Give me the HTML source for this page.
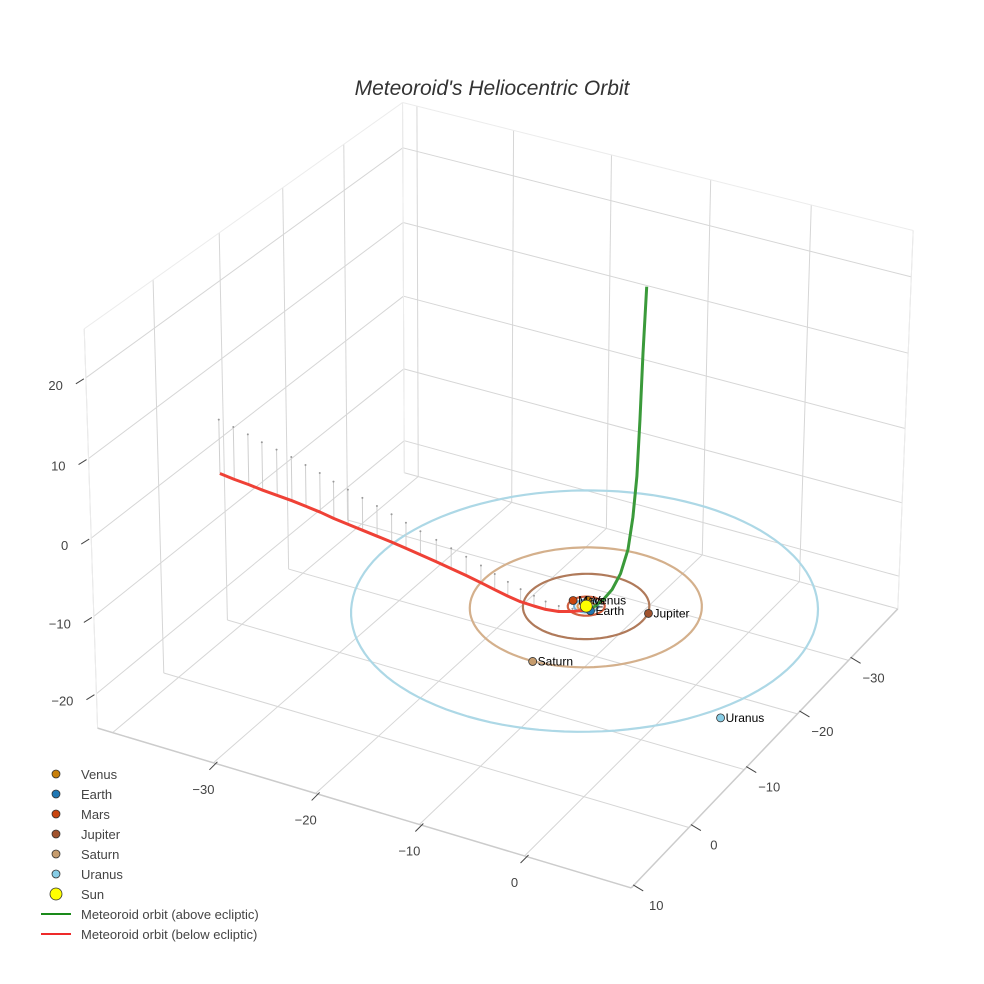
<!DOCTYPE html>
<html><head><meta charset="utf-8"><style>
html,body{margin:0;padding:0;background:#fff;}
svg{display:block;font-family:"Liberation Sans",sans-serif;}
</style></head><body>
<svg id="chart" width="984" height="984" viewBox="0 0 984 984">
<rect width="984" height="984" fill="#fff"/>
<text x="492" y="95" text-anchor="middle" font-size="21" font-style="italic" fill="#333">Meteoroid's Heliocentric Orbit</text>
<g id="grid"></g>
<g id="axes"></g>
<g id="orbits"></g>
<g id="traj"></g>
<g id="planets"></g>
<g id="legend"></g>
</svg>
<script>
// ---- data ----
const xTicks=[-30,-20,-10,0];
const yTicks=[-30,-20,-10,0,10];
const zTicks=[-20,-10,0,10,20];
const planetNames=["Venus","Earth","Mars","Jupiter","Saturn","Uranus"];
const planetColors=["#c87f0a","#1f77b4","#c8450f","#a0522d","#c69c6d","#87cde6"];
const orbitColors=["#e0a060","#7ab8dc","#d06040","#b07a5a","#d4b08c","#add8e6"];
const orbitRadii=[0.72,1.0,1.52,5.2,9.55,19.2];
const planetX=[-0.33,0.67,-1.39,5.07,0.41,17.8];
const planetY=[-0.85,0.49,-0.27,-1.42,9.6,9.95];
const redX=[-43.4,-41.6,-39.8,-38.0,-36.2,-34.4,-32.6,-30.8,-29.0,-27.2,-25.4,-23.6,-21.8,-20.0,-18.2,-16.3,-14.5,-12.7,-10.9,-9.2,-7.6,-6.1,-4.6,-3.3,-2.0,-0.8,0.45];
const redY=[-12.2,-11.7,-11.2,-10.6,-10.1,-9.6,-9.0,-8.4,-7.7,-7.1,-6.5,-5.9,-5.3,-4.65,-4.0,-3.4,-2.8,-2.2,-1.55,-0.9,-0.3,0.2,0.6,0.95,1.05,0.9,0.44];
const redZ=[-7.1,-6.9,-6.6,-6.3,-6.0,-5.7,-5.4,-5.1,-4.8,-4.5,-4.2,-3.9,-3.6,-3.3,-3.0,-2.8,-2.6,-2.4,-2.2,-2.0,-1.8,-1.6,-1.3,-1.0,-0.7,-0.35,0];
const greenX=[0.45,1,1.7,2.4,3.0,3.5,3.8,4.0,4.15,4.3,4.5];
const greenY=[0.44,0.35,0.2,0,-0.3,-0.6,-0.8,-1,-1.1,-1.15,-1.2];
const greenZ=[0,0.6,1.6,3,5,8,12,17,24,32,40];
const XR=[-41.5,10],YR=[-40,10],ZR=[-24.5,26];

// ---- camera calibration (DLT) ----
const cal=[[XR[0],YR[1],ZR[0],100,728],[XR[0],YR[1],ZR[1],81,334],[XR[0],YR[0],ZR[1],400,102],
[XR[1],YR[0],ZR[1],912,232],[XR[1],YR[1],ZR[0],620,893],[XR[1],YR[0],ZR[0],898,612],[XR[0],YR[0],ZR[0],405,471],
[0,0,0,590,603],[0,0,0,590,603],[0,0,0,590,603],[0,0,0,590,603],[XR[0],YR[1],0,91,538]];
function solve(){
  const A=[],b=[];
  cal.forEach(([X,Y,Z,u,v])=>{
    A.push([X,Y,Z,1,0,0,0,0,-u*X,-u*Y,-u*Z]);b.push(u);
    A.push([0,0,0,0,X,Y,Z,1,-v*X,-v*Y,-v*Z]);b.push(v);
  });
  const n=11,M=[];
  for(let i=0;i<n;i++){M.push([]);for(let j=0;j<=n;j++){let s=0;for(let k=0;k<A.length;k++)s+=A[k][i]*(j<n?A[k][j]:b[k]);M[i].push(s);}}
  for(let i=0;i<n;i++){let p=i;for(let r=i+1;r<n;r++)if(Math.abs(M[r][i])>Math.abs(M[p][i]))p=r;[M[i],M[p]]=[M[p],M[i]];
    for(let r=0;r<n;r++){if(r===i)continue;const f=M[r][i]/M[i][i];for(let c=i;c<=n;c++)M[r][c]-=f*M[i][c];}}
  return M.map((r,i)=>r[n]/r[i]);
}
const P=solve();
function proj(X,Y,Z){const w=P[8]*X+P[9]*Y+P[10]*Z+1;return[(P[0]*X+P[1]*Y+P[2]*Z+P[3])/w,(P[4]*X+P[5]*Y+P[6]*Z+P[7])/w];}
const NS="http://www.w3.org/2000/svg";
function el(t,a,parent){const e=document.createElementNS(NS,t);for(const k in a)e.setAttribute(k,a[k]);document.getElementById(parent).appendChild(e);return e;}
function line(p,q,col,w,parent){const a=proj(...p),b=proj(...q);return el("line",{x1:a[0],y1:a[1],x2:b[0],y2:b[1],stroke:col,"stroke-width":w},parent);}
function path(pts,col,w,parent){return el("path",{d:pts.map((p,i)=>(i?"L":"M")+proj(...p).map(v=>v.toFixed(1)).join(",")).join(""),fill:"none",stroke:col,"stroke-width":w,"stroke-linejoin":"round"},parent);}

// ---- grid ----
const gc="#d6d6d6";
const xg=[-40].concat(xTicks).concat([10]), yg=[-40].concat(yTicks), zg=zTicks;
xg.forEach(x=>{
  let a=line([x,YR[0],ZR[0]],[x,YR[1],ZR[0]],gc,1,"grid");
  let b=line([x,YR[0],ZR[0]],[x,YR[0],ZR[1]],gc,1,"grid");
});
yg.forEach(y=>{
  let a=line([XR[0],y,ZR[0]],[XR[1],y,ZR[0]],gc,1,"grid");
  let b=line([XR[0],y,ZR[0]],[XR[0],y,ZR[1]],gc,1,"grid");
});
zg.forEach(z=>{
  let a=path([[XR[0],YR[1],z],[XR[0],YR[0],z],[XR[1],YR[0],z]],gc,1,"grid");
});
[[[XR[0],YR[1],ZR[1]],[XR[0],YR[0],ZR[1]]],[[XR[0],YR[0],ZR[1]],[XR[1],YR[0],ZR[1]]],[[XR[0],YR[1],ZR[0]],[XR[0],YR[1],ZR[1]]],[[XR[1],YR[0],ZR[0]],[XR[1],YR[0],ZR[1]]],[[XR[0],YR[0],ZR[0]],[XR[0],YR[0],ZR[1]]]].forEach(s=>{
  let e=line(s[0],s[1],"#ececec",1,"grid");
});
let fe1=line([XR[0],YR[1],ZR[0]],[XR[1],YR[1],ZR[0]],"#ccc",1.5,"axes");
let fe2=line([XR[1],YR[1],ZR[0]],[XR[1],YR[0],ZR[0]],"#ccc",1.5,"axes");
xTicks.forEach(x=>{
  const p=proj(x,YR[1],ZR[0]);
  let t=el("line",{x1:p[0]-4,y1:p[1]+7,x2:p[0]+4,y2:p[1]-1,stroke:"#444","stroke-width":1},"axes");
  let l=el("text",{x:p[0]-10,y:p[1]+31,"text-anchor":"middle","font-size":13,fill:"#444"},"axes");l.textContent=x===0?"0":"\u2212"+Math.abs(x);
  
});
yTicks.forEach(y=>{
  const p=proj(XR[1],y,ZR[0]);
  let t=el("line",{x1:p[0]+2,y1:p[1]-3,x2:p[0]+12,y2:p[1]+3,stroke:"#444","stroke-width":1},"axes");
  let l=el("text",{x:p[0]+25,y:p[1]+22,"text-anchor":"middle","font-size":13,fill:"#444"},"axes");l.textContent=y<0?"\u2212"+Math.abs(y):String(y);
  
});
zTicks.forEach(z=>{
  const p=proj(XR[0],YR[1],z);
  let t=el("line",{x1:p[0]-10,y1:p[1]+6,x2:p[0]-2,y2:p[1]+1,stroke:"#444","stroke-width":1},"axes");
  let l=el("text",{x:p[0]-23,y:p[1]+12,"text-anchor":"end","font-size":13,fill:"#444"},"axes");l.textContent=z<0?"\u2212"+Math.abs(z):String(z);
  
});

// ---- orbits ----
orbitRadii.forEach((r,i)=>{
  const pts=[];for(let k=0;k<=120;k++){const t=k/120*2*Math.PI;pts.push([r*Math.cos(t),r*Math.sin(t),0]);}
  let o=path(pts,orbitColors[i],2.2,"orbits");
  
});

// ---- trajectory ----
redX.forEach((x,i)=>{
  let s=line([x,redY[i],redZ[i]],[x,redY[i],0],"#cfcfcf",1,"traj");
  
  const q=proj(x,redY[i],0);
  let d=el("circle",{cx:q[0],cy:q[1],r:1,fill:"#999"},"traj");
});
let red=path(redX.map((x,i)=>[x,redY[i],redZ[i]]),"#ef4136",3,"traj");

let green=path(greenX.map((x,i)=>[x,greenY[i],greenZ[i]]),"#3a9a3a",3,"traj");


// ---- planets ----
planetNames.forEach((n,i)=>{
  const p=proj(planetX[i],planetY[i],0);
  let c=el("circle",{cx:p[0],cy:p[1],r:4,fill:planetColors[i],stroke:"#333","stroke-width":0.8},"planets");
  
  let t=el("text",{x:p[0]+5,y:p[1]+4,"font-size":12,fill:"#000"},"planets");t.textContent=n;
  
});
const sp=proj(0,0,0);
let sun=el("circle",{cx:sp[0],cy:sp[1],r:6,fill:"#ffff00",stroke:"#333","stroke-width":0.8},"planets");


// ---- legend ----
const legNames=planetNames.concat(["Sun"]);
const legColors=planetColors.concat(["#ffff00"]);
legNames.forEach((n,i)=>{
  const y=774+i*20;
  let c=el("circle",{cx:56,cy:y,r:n==="Sun"?6:4,fill:legColors[i],stroke:"#333","stroke-width":0.8},"legend");
  
  let t=el("text",{x:81,y:y+5,"font-size":13,fill:"#444"},"legend");t.textContent=n;
  
});
[["Meteoroid orbit (above ecliptic)","#1a8a1a"],["Meteoroid orbit (below ecliptic)","#ee2a2a"]].forEach(([n,c],i)=>{
  const y=914+i*20;
  let l=el("line",{x1:41,y1:y,x2:71,y2:y,stroke:c,"stroke-width":2},"legend");
  
  let t=el("text",{x:81,y:y+5,"font-size":13,fill:"#444"},"legend");t.textContent=n;
  
});
</script>
</body></html>
